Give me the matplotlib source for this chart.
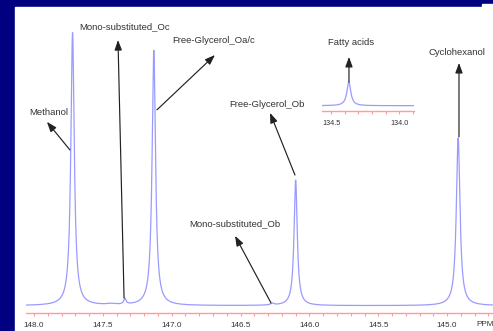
"""13C NMR spectrum (glycerol region) with annotated peaks and a fatty-acid inset."""

import matplotlib
matplotlib.use("Agg")
import matplotlib.pyplot as plt
import numpy as np
from matplotlib.patches import Rectangle

plt.rcParams["font.family"] = ["Liberation Sans", "DejaVu Sans"]

NAVY = "#000080"
TRACE = "#9a9aff"
AXIS_RED = "#ff9c9c"
INK = "#333333"

# peaks: centre (ppm), height (methanol = 100), half width (ppm)
peak_ppm = [147.72, 147.44, 147.34, 147.13, 146.27, 146.10, 144.92]
peak_height = [100.0, 0.4, 2.1, 93.5, 0.65, 46.0, 61.5]
peak_hwhm = [0.015, 0.040, 0.010, 0.015, 0.015, 0.014, 0.016]

inset_ppm = [134.37]
inset_height = [8.8]
inset_hwhm = [0.017]

main_ticks = [148.0, 147.5, 147.0, 146.5, 146.0, 145.5, 145.0]
inset_ticks = [134.5, 134.0]

# label text, text position, arrow tail (at the peak), arrow head (at the label)
labels = [
    ("Methanol", (147.895, 70.7), (147.739, 57.1), (147.906, 67.4)),
    ("Mono-substituted_Oc", (147.339, 102.2), (147.346, 2.8), (147.390, 97.4)),
    ("Free-Glycerol_Oa/c", (146.693, 97.1), (147.107, 71.8), (146.686, 91.9)),
    ("Free-Glycerol_Ob", (146.308, 73.6), (146.105, 47.9), (146.286, 70.7)),
    ("Mono-substituted_Ob", (146.540, 30.0), (146.279, 1.0), (146.540, 25.6)),
    ("Cyclohexanol", (144.928, 93.0), (144.914, 61.9), (144.914, 89.0)),
]
inset_label = ("Fatty acids", (134.354, 23.0), (134.369, 8.7), (134.369, 17.9))


def spectrum(x, centres, heights, widths):
    y = np.zeros_like(x)
    for c, h, w in zip(centres, heights, widths):
        y += h / (1.0 + ((x - c) / w) ** 2)
    return y


def red_axis(ax, ticks, labelsize):
    for s in ("top", "right", "left"):
        ax.spines[s].set_visible(False)
    ax.spines["bottom"].set_color(AXIS_RED)
    ax.spines["bottom"].set_linewidth(1.0)
    ax.set_yticks([])
    ax.set_xticks(ticks)
    ax.set_xticklabels([f"{t:.1f}" for t in ticks])
    ax.tick_params(axis="x", which="both", direction="out", length=2.2,
                   color=AXIS_RED, width=0.8, labelsize=labelsize, pad=4.5,
                   labelcolor=INK)
    ax.patch.set_alpha(0)


def annotate(ax, text, txt_xy, tail, head, fs=6.8):
    ax.annotate("", xy=head, xytext=tail,
                arrowprops=dict(arrowstyle="-|>,head_length=0.6,head_width=0.22",
                                color="#222222", lw=0.85, shrinkA=0, shrinkB=0),
                annotation_clip=False)
    ax.text(*txt_xy, text, ha="center", va="center", fontsize=fs, color=INK,
            clip_on=False)


fig = plt.figure(figsize=(4.93, 3.31), dpi=100)
fig.patch.set_facecolor(NAVY)
W, H = 493.0, 331.0
fig.add_artist(Rectangle((15 / W, 0), 1 - 15 / W, (H - 7) / H,
                         transform=fig.transFigure, color="white", zorder=-5))
fig.add_artist(Rectangle((482 / W, 0), 11 / W, (H - 4) / H,
                         transform=fig.transFigure, color="white", zorder=-5))

# main spectrum
ax = fig.add_axes([26 / W, (H - 313) / H, 467 / W, 306 / H])
x = np.linspace(148.058, 144.667, 6000)
ax.plot(x, spectrum(x, peak_ppm, peak_height, peak_hwhm), color=TRACE, lw=0.9)
ax.set_xlim(148.058, 144.667)
ax.set_ylim(-2.68, 109.5)
red_axis(ax, main_ticks, 5.9)
ax.xaxis.set_minor_locator(matplotlib.ticker.MultipleLocator(0.1))
ax.text(485 / W, 6 / H, "PPM", transform=fig.transFigure, ha="center",
        va="center", fontsize=5.9, color=INK)
for text, txt_xy, tail, head in labels:
    annotate(ax, text, txt_xy, tail, head)

# inset: fatty acids
ins = fig.add_axes([322 / W, (H - 111) / H, 92 / W, 36 / H])
xi = np.linspace(134.566, 133.894, 2000)
ins.plot(xi, spectrum(xi, inset_ppm, inset_height, inset_hwhm), color=TRACE, lw=0.9)
ins.set_xlim(134.566, 133.894)
ins.set_ylim(-1.94, 11.26)
red_axis(ins, inset_ticks, 5.2)
ins.xaxis.set_minor_locator(matplotlib.ticker.MultipleLocator(0.1))
annotate(ins, *inset_label)

fig.savefig("out.png", dpi=100, facecolor=NAVY)
